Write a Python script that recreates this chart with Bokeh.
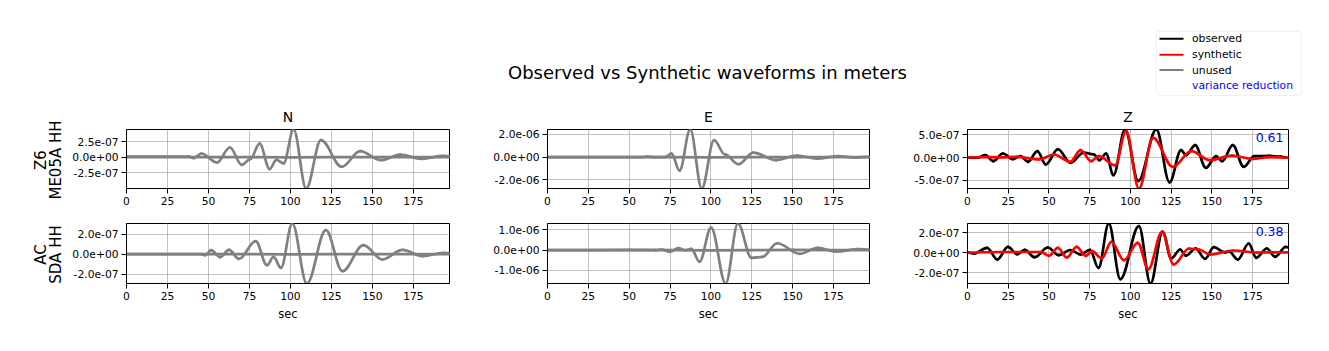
import numpy as np
from bokeh.plotting import figure
from bokeh.layouts import column, row
from bokeh.models import Range1d, FixedTicker, CustomJSTickFormatter, Label, BoxAnnotation
from bokeh.embed import file_html
from bokeh.resources import INLINE
from bokeh.core.properties import value

# ---------------- data ----------------
TITLE = "Observed vs Synthetic waveforms in meters"
components = ["N", "E", "Z"]
station_labels = ["Z6\nME05A HH", "AC\nSDA HH"]
variance_reduction = ["0.61", "0.38"]
legend_labels = ["observed", "synthetic", "unused", "variance reduction"]
x_ticks = [0, 25, 50, 75, 100, 125, 150, 175]

# turning points of each trace: time (s) and displacement (m)
me05a_n_t = [0, 38, 41, 45.7, 55.2, 63.0, 70.4, 75.5, 81.2, 87.3, 91.4, 95.8, 101.9,
             109.6, 118.6, 131.3, 142.5, 155.1, 166.9, 180.0, 193.0, 197.0]
me05a_n_obs = [0.1e-7, 0.1e-7, -0.15e-7, 0.6e-7, -0.87e-7, 1.58e-7, -1.25e-7, -0.3e-7,
               2.2e-7, -1.95e-7, -0.45e-7, -1.0e-7, 4.52e-7, -5.11e-7, 2.77e-7, -1.57e-7,
               0.98e-7, -0.5e-7, 0.43e-7, -0.27e-7, 0.2e-7, 0.15e-7]
me05a_n_syn_t = [0, 50, 100, 150, 197]
me05a_n_syn = [0.0, 0.02e-7, -0.02e-7, 0.02e-7, 0.0]

me05a_e_t = [0, 58, 61, 65, 72, 75.9, 80.8, 87.3, 94.4, 101.9, 108.5, 116.9, 125.9, 140.0,
             152.7, 164.8, 178.0, 188.0, 197]
me05a_e_obs = [0, 0, 0.05e-6, 0, 0, 0.32e-6, -1.18e-6, 2.44e-6, -2.76e-6, 1.5e-6, 0.25e-6,
               -0.62e-6, 0.41e-6, -0.26e-6, 0.15e-6, -0.12e-6, 0.09e-6, -0.03e-6, 0.03e-6]
me05a_e_syn_t = [0, 50, 100, 150, 197]
me05a_e_syn = [0.0, 0.01e-6, -0.01e-6, 0.01e-6, 0.0]

me05a_z_t = [0, 6, 11, 15.8, 21.7, 27.8, 32.5, 37.1, 42.9, 48, 55.5, 63.2, 71.3, 77.5, 81,
             85, 89.6, 96.7, 104.8, 115.9, 124, 131.1, 134.2, 139.7, 146.3, 152.5, 156.3,
             162.8, 169.5, 176, 185, 192, 197]
me05a_z_obs = [0, -0.05e-7, 0.5e-7, -0.8e-7, 0.87e-7, -0.36e-7, 0.3e-7, -0.94e-7, 1.38e-7,
               -1.52e-7, 1.8e-7, -1.16e-7, 1.05e-7, 0.7e-7, -0.6e-7, 0.87e-7, -3.84e-7,
               6.09e-7, -5.1e-7, 6.09e-7, -5.4e-7, 1.6e-7, 0.5e-7, 2.68e-7, -2.25e-7,
               0.3e-7, -0.8e-7, 2.68e-7, -2.03e-7, 0.3e-7, 0.35e-7, 0.2e-7, -0.1e-7]
me05a_z_syn_t = [0, 10, 20, 30, 44, 53, 63.2, 69.3, 76, 80.4, 90.6, 97.3, 105.2, 113.9,
                 126, 137.4, 148.6, 162.4, 175, 185, 197]
me05a_z_syn = [0, 0.1e-7, 0.05e-7, 0.15e-7, -0.4e-7, 0.65e-7, -0.94e-7, 1.6e-7, -0.8e-7,
               0.3e-7, -1.67e-7, 5.72e-7, -6.74e-7, 4.28e-7, -2.03e-7, 1.38e-7, -0.58e-7,
               0.43e-7, -0.3e-7, 0.1e-7, -0.05e-7]

sda_n_t = [0, 46, 48, 51.6, 57.2, 62.5, 68.6, 78.8, 85.7, 89.7, 94.2, 101.1, 110.0, 121.6,
           131.7, 144.5, 156.1, 168.3, 180.7, 193.3, 197]
sda_n_obs = [0, 0, -0.1e-7, 0.4e-7, -0.3e-7, 0.43e-7, -0.47e-7, 1.3e-7, -1.1e-7, -0.27e-7,
             -1.37e-7, 3.07e-7, -2.93e-7, 2.4e-7, -1.7e-7, 0.9e-7, -0.53e-7, 0.43e-7,
             -0.2e-7, 0.13e-7, 0.1e-7]
sda_n_syn_t = [0, 50, 100, 150, 197]
sda_n_syn = [0.0, 0.01e-7, -0.01e-7, 0.01e-7, 0.0]

sda_e_t = [0, 66, 70, 75, 80, 84.5, 88, 93, 100.1, 109, 116.5, 124.8, 131.5, 140.5, 154.3,
           165.4, 176.6, 190, 197]
sda_e_obs = [0, 0, 0.03e-6, -0.08e-6, 0.1e-6, 0.0, 0.06e-6, -0.57e-6, 1.11e-6, -1.64e-6,
             1.31e-6, -0.38e-6, -0.33e-6, 0.34e-6, -0.18e-6, 0.11e-6, -0.07e-6, 0.05e-6,
             0.02e-6]
sda_e_syn_t = [0, 50, 100, 150, 197]
sda_e_syn = [0.0, 0.01e-6, -0.01e-6, 0.01e-6, 0.0]

sda_z_t = [0, 4, 12, 18.3, 24.8, 30.5, 35.1, 41.2, 49.3, 56, 63, 69.5, 75.1, 80.4, 86.7,
           93.8, 105.2, 112.3, 119.8, 125, 130.5, 134, 140, 145.8, 151.2, 158, 160.5, 165.9,
           172.6, 177.2, 183.7, 188.8, 195.3, 197]
sda_z_obs = [0, -0.1e-7, 0.47e-7, -0.7e-7, 0.57e-7, -0.17e-7, 0.27e-7, -0.47e-7, 0.5e-7,
             -0.27e-7, 0.25e-7, -0.2e-7, 0.27e-7, -1.53e-7, 2.9e-7, -2.67e-7, 2.63e-7,
             -3.1e-7, 2.07e-7, -0.6e-7, 0.3e-7, -0.33e-7, 0.4e-7, -0.63e-7, 0.53e-7, 0.0,
             0.1e-7, -0.7e-7, 0.9e-7, -0.53e-7, 0.4e-7, -0.43e-7, 0.57e-7, 0.5e-7]
sda_z_syn_t = [0, 20, 45, 50.1, 55.4, 60.9, 67, 72.5, 76.5, 82.4, 88.3, 96, 104.5, 111,
               119.4, 126.5, 136, 142, 148.8, 163, 178, 197]
sda_z_syn = [0, 0.05e-7, 0.05e-7, -0.33e-7, 0.47e-7, -0.5e-7, 0.57e-7, -0.33e-7, 0.13e-7,
             -0.6e-7, 1.07e-7, -0.77e-7, 0.97e-7, -1.67e-7, 2.07e-7, -1.2e-7, 0.4e-7,
             0.3e-7, -0.2e-7, 0.2e-7, 0.0, 0.02e-7]

me05a_n_yticks = [-2.5e-7, 0, 2.5e-7]
me05a_e_yticks = [-2e-6, 0, 2e-6]
me05a_z_yticks = [-5e-7, 0, 5e-7]
sda_n_yticks = [-2e-7, 0, 2e-7]
sda_e_yticks = [-1e-6, 0, 1e-6]
sda_z_yticks = [-2e-7, 0, 2e-7]

# ---------------- styling / layout ----------------
FONT = "DejaVu Sans"
C_OBS, C_SYN, C_UNUSED, C_VR = "black", "red", "gray", "blue"
LW = 2.7
TOTAL_W, TOTAL_H = 1329, 351
TOP_H = 124
LABEL_W = 64
LEFT = 62
FRAME_W = [323, 322, 321]
RIGHT = [36, 36, 41]
ROW_TOP = [5, 5]
ROW_FRAME = [59, 60]
ROW_BOTTOM = [30, 68]

fmt_code = """
const s = tick.toExponential(1);
const m = s.match(/^(-?[0-9.]+)e([+-])([0-9]+)$/);
if (!m) { return s; }
const e = m[3].length < 2 ? '0' + m[3] : m[3];
return m[1] + 'e' + m[2] + e;
"""


def draw_trace(p, t, a, color):
    t = np.asarray(t, float)
    a = np.asarray(a, float)
    dt = np.diff(t)
    p.bezier(x0=t[:-1], y0=a[:-1], x1=t[1:], y1=a[1:],
             cx0=t[:-1] + 0.36 * dt, cy0=a[:-1], cx1=t[1:] - 0.36 * dt, cy1=a[1:],
             line_color=color, line_width=LW, line_cap="round")


def panel(traces, yticks, ci, ri, xlabel=False, vr=None):
    ts = np.concatenate([np.asarray(t, float) for t, _, _ in traces])
    ys = np.concatenate([np.asarray(a, float) for _, a, _ in traces])
    p = figure(width=LEFT + FRAME_W[ci] + RIGHT[ci],
               height=ROW_TOP[ri] + ROW_FRAME[ri] + ROW_BOTTOM[ri],
               x_range=Range1d(ts.min(), ts.max()), y_range=Range1d(ys.min(), ys.max()),
               min_border_left=LEFT, min_border_right=RIGHT[ci],
               min_border_top=ROW_TOP[ri], min_border_bottom=ROW_BOTTOM[ri],
               output_backend="svg", toolbar_location=None, title=None)
    p.xaxis.ticker = FixedTicker(ticks=x_ticks, minor_ticks=[])
    p.yaxis.ticker = FixedTicker(ticks=yticks, minor_ticks=[])
    p.yaxis.formatter = CustomJSTickFormatter(code=fmt_code)
    for ax in p.axis:
        ax.major_tick_out = 5
        ax.major_tick_in = 0
        ax.minor_tick_line_color = None
        ax.axis_line_color = "black"
        ax.major_tick_line_color = "black"
        ax.major_label_text_font = FONT
        ax.major_label_text_font_size = "10.7px"
        ax.major_label_text_color = "black"
        ax.major_label_standoff = 3
    if xlabel:
        p.xaxis.axis_label = "sec"
        p.xaxis.axis_label_text_font = FONT
        p.xaxis.axis_label_text_font_size = "11.5px"
        p.xaxis.axis_label_text_font_style = "normal"
        p.xaxis.axis_label_text_color = "black"
        p.xaxis.axis_label_standoff = 4
    p.grid.grid_line_color = "#b0b0b0"
    p.grid.grid_line_width = 0.8
    p.outline_line_color = "black"
    p.outline_line_width = 1
    p.outline_line_alpha = 1
    p.background_fill_color = "white"
    p.border_fill_color = "white"
    for t, a, c in traces:
        draw_trace(p, t, a, c)
    if vr is not None:
        p.add_layout(Label(x=ts.max(), y=ys.max(), x_offset=-5, y_offset=-3, text=vr,
                           text_align="right", text_baseline="top", text_color=C_VR,
                           text_font=FONT, text_font_size="12.5px"))
    return p


def blank(width, height, flip=False):
    yr = Range1d(height, 0) if flip else Range1d(0, height)
    b = figure(width=width, height=height, x_range=Range1d(0, width), y_range=yr,
               x_axis_type=None, y_axis_type=None, min_border=0,
               output_backend="svg", toolbar_location=None, title=None)
    b.outline_line_color = None
    b.background_fill_color = "white"
    b.border_fill_color = "white"
    return b


# left strip: station labels (full height, so rotated texts are never clipped)
label_fig = blank(LABEL_W, TOTAL_H)
row_top_px = [TOP_H, TOP_H + ROW_TOP[0] + ROW_FRAME[0] + ROW_BOTTOM[0]]
for ri in range(2):
    cy_px = row_top_px[ri] + ROW_TOP[ri] + ROW_FRAME[ri] / 2 + 1
    label_fig.text(x=[48], y=[TOTAL_H - cy_px], text=[station_labels[ri]], angle=np.pi / 2,
                   text_font=value(FONT), text_font_size="15px", text_align="center",
                   text_baseline="middle", text_color="black", text_line_height=0.85)

# top strip: suptitle, column titles, legend (page x = strip x + LABEL_W)
TOP_W = TOTAL_W - LABEL_W
top = blank(TOP_W, TOP_H, flip=True)
top.text(x=[707 - LABEL_W], y=[72], text=[TITLE], text_font=value(FONT),
         text_font_size="18px", text_align="center", text_baseline="middle",
         text_color="black")
col_x = []
off = 0
for ci in range(3):
    col_x.append(off + LEFT + FRAME_W[ci] / 2)
    off += LEFT + FRAME_W[ci] + RIGHT[ci]
top.text(x=col_x, y=[116] * 3, text=components, text_font=value(FONT),
         text_font_size="14px", text_align="center", text_baseline="middle",
         text_color="black")
top.add_layout(BoxAnnotation(left=1155.7 - LABEL_W, right=1300.7 - LABEL_W, top=30.7,
                             bottom=95.0, fill_color="white", fill_alpha=0.8,
                             line_color="#cccccc", line_width=1, border_radius=3,
                             level="underlay"))
leg_y = [38.3, 54.3, 69.6, 85.3]
top.segment(x0=[1159 - LABEL_W] * 3, y0=leg_y[:3], x1=[1183 - LABEL_W] * 3, y1=leg_y[:3],
            line_color=[C_OBS, C_SYN, C_UNUSED], line_width=2)
top.text(x=[1191.5 - LABEL_W] * 4, y=leg_y, text=legend_labels, text_font=value(FONT),
         text_font_size="10.8px", text_align="left", text_baseline="middle",
         text_color=["black", "black", "black", C_VR])

r1 = [
    panel([(me05a_n_syn_t, me05a_n_syn, C_UNUSED), (me05a_n_t, me05a_n_obs, C_UNUSED)],
          me05a_n_yticks, 0, 0),
    panel([(me05a_e_syn_t, me05a_e_syn, C_UNUSED), (me05a_e_t, me05a_e_obs, C_UNUSED)],
          me05a_e_yticks, 1, 0),
    panel([(me05a_z_t, me05a_z_obs, C_OBS), (me05a_z_syn_t, me05a_z_syn, C_SYN)],
          me05a_z_yticks, 2, 0, vr=variance_reduction[0]),
]
r2 = [
    panel([(sda_n_syn_t, sda_n_syn, C_UNUSED), (sda_n_t, sda_n_obs, C_UNUSED)],
          sda_n_yticks, 0, 1, xlabel=True),
    panel([(sda_e_syn_t, sda_e_syn, C_UNUSED), (sda_e_t, sda_e_obs, C_UNUSED)],
          sda_e_yticks, 1, 1, xlabel=True),
    panel([(sda_z_t, sda_z_obs, C_OBS), (sda_z_syn_t, sda_z_syn, C_SYN)],
          sda_z_yticks, 2, 1, xlabel=True, vr=variance_reduction[1]),
]

layout = row(label_fig, column(top, row(*r1), row(*r2)))
open("out.html", "w").write(file_html(layout, INLINE, title=TITLE))
